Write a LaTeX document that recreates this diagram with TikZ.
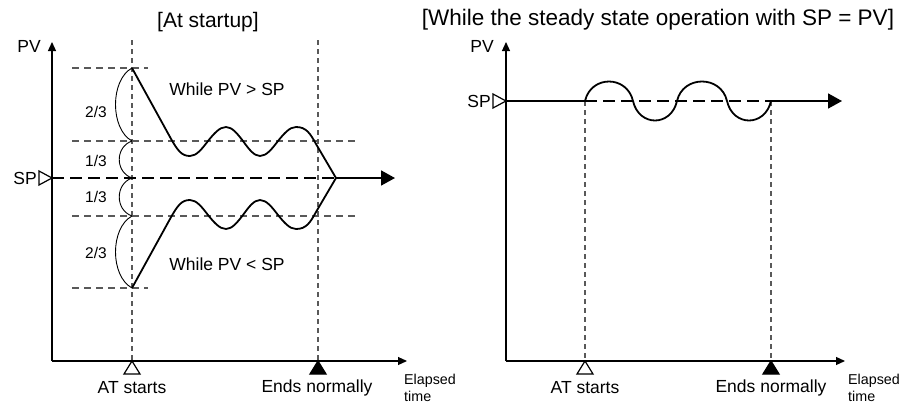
\documentclass[tikz,border=0pt]{standalone}
\usepackage{fontspec}
\setmainfont{Liberation Sans}
\usetikzlibrary{arrows.meta}
\tikzset{
  axis/.style={black, line width=1.2pt, -{Triangle[length=9pt,width=8pt]}},
  pvline/.style={black, line width=1.8pt, line join=round},
  sparrow/.style={black, line width=1.8pt, -{Triangle[length=14pt,width=15pt]}},
  spdash/.style={black, line width=1.8pt, dash pattern=on 12pt off 6pt},
  hguide/.style={black!65, line width=1.1pt, dash pattern=on 7pt off 5pt},
  vguide/.style={black!65, line width=1.1pt, dash pattern=on 5pt off 4pt},
  brc/.style={black, line width=0.9pt},
  mkhollow/.style={draw=black, fill=white, line width=1.2pt},
  mkfull/.style={draw=black, fill=black, line width=1.2pt},
  ttl/.style={font=\fontsize{21}{24}\selectfont, inner sep=0pt},
  lbl/.style={font=\fontsize{17.5}{20}\selectfont, inner sep=0pt},
  fraclbl/.style={font=\fontsize{15.5}{18}\selectfont, inner sep=0pt},
  timelbl/.style={font=\fontsize{14.3}{16.5}\selectfont, inner sep=0pt, align=left, anchor=west},
}

\begin{document}
\begin{tikzpicture}[x=1pt, y=-1pt]
  \useasboundingbox (0,0) rectangle (903,407);

  % --- left chart: at startup ---
  \coordinate (O1) at (52,361);  \coordinate (Y1) at (52,42);  \coordinate (X1) at (407,361);
  \coordinate (AT1) at (132,361); \coordinate (AT1t) at (132,40);
  \coordinate (EN1) at (318,361); \coordinate (EN1t) at (318,40);
  \coordinate (SP1) at (52,178);  \coordinate (AP1) at (336,178); \coordinate (SE1) at (395,178);

  \node[ttl] (title1) at (208,22) {[At startup]};

  % guide lines
  \draw[vguide] (AT1t) -- (AT1);
  \draw[vguide] (EN1t) -- (EN1);
  \foreach \ya/\xb in {68/148, 141/357, 216/357, 288/148}
    \draw[hguide] (72,\ya) -- (\xb,\ya);

  % 2/3 and 1/3 spans
  \foreach \ya/\yb/\bx/\dy in {68/141/110/12, 141/178/115/6, 178/216/115/6, 216/288/110/12}
    \draw[brc] (132,\ya) .. controls (\bx,\ya+\dy) and (\bx,\yb-\dy) .. (132,\yb);
  \node[fraclbl] (fa) at (96,112) {2/3};
  \node[fraclbl] (fb) at (96,161) {1/3};
  \node[fraclbl] (fc) at (96,197) {1/3};
  \node[fraclbl] (fd) at (96,253) {2/3};

  % SP level
  \draw[spdash] (SP1) -- (AP1);
  \draw[sparrow] (AP1) -- (SE1);

  % PV above / below SP (mirrored)
  \foreach \s in {1,-1}
    \draw[pvline] (132,{178-110*\s}) -- (170,{178-41*\s})
      .. controls (178,{178-26.5*\s}) and (182,{178-22*\s}) .. (190,{178-22*\s})
      cos (208,{178-37*\s}) sin (226,{178-51*\s}) cos (243,{178-37*\s}) sin (260,{178-22*\s})
      cos (278,{178-37*\s}) sin (296,{178-51*\s})
      .. controls (306,{178-51*\s}) and (310,{178-45*\s}) .. (316,{178-34*\s}) -- (AP1);

  \node[lbl] (above1) at (227,89) {While PV > SP};
  \node[lbl] (below1) at (227,264) {While PV < SP};

  % axes
  \draw[axis] (O1) -- (Y1);
  \draw[axis] (O1) -- (X1);
  \node[lbl] (pv1) at (29,46) {PV};
  \draw[mkhollow] (SP1) -- ++(-13,-7) -- ++(0,14) -- cycle;
  \node[lbl, anchor=east] (sp1) at (37,178) {SP};

  % start / end marks
  \draw[mkhollow] (AT1) -- ++(-8,13) -- ++(16,0) -- cycle;
  \draw[mkfull] (EN1) -- ++(-8,13) -- ++(16,0) -- cycle;
  \node[lbl] (start1) at (132,388) {AT starts};
  \node[lbl] (end1) at (317,388) {Ends normally};
  \node[timelbl] (time1) at (404,388) {Elapsed\\time};

  % --- right chart: steady state with SP = PV ---
  \coordinate (O2) at (506,361);  \coordinate (Y2) at (506,42);  \coordinate (X2) at (845,361);
  \coordinate (SP2) at (506,101); \coordinate (W0) at (585,101); \coordinate (W4) at (771,101);
  \coordinate (SE2) at (842,101);
  \coordinate (AT2) at (585,361); \coordinate (EN2) at (771,361);

  \node[ttl, font=\fontsize{22.5}{25}\selectfont] (title2) at (658,20) {[While the steady state operation with SP = PV]};

  \draw[vguide] (W0) -- (AT2);
  \draw[vguide] (W4) -- (EN2);

  \draw[spdash] (W0) -- (W4);
  \draw[pvline] (SP2) -- (W0)
    .. controls (591,75) and (627,75) .. (633,101)
    .. controls (639,127) and (671,127) .. (677,101)
    .. controls (683,75) and (721,75) .. (727,101)
    .. controls (733,127) and (765,127) .. (W4);
  \draw[sparrow] (W4) -- (SE2);

  \draw[axis] (O2) -- (Y2);
  \draw[axis] (O2) -- (X2);
  \node[lbl] (pv2) at (482,46) {PV};
  \draw[mkhollow] (SP2) -- ++(-13,-7) -- ++(0,14) -- cycle;
  \node[lbl, anchor=east] (sp2) at (491,101) {SP};

  \draw[mkhollow] (AT2) -- ++(-8,13) -- ++(16,0) -- cycle;
  \draw[mkfull] (EN2) -- ++(-8,13) -- ++(16,0) -- cycle;
  \node[lbl] (start2) at (585,388) {AT starts};
  \node[lbl] (end2) at (771,388) {Ends normally};
  \node[timelbl] (time2) at (848,388) {Elapsed\\time};
\end{tikzpicture}
\end{document}
